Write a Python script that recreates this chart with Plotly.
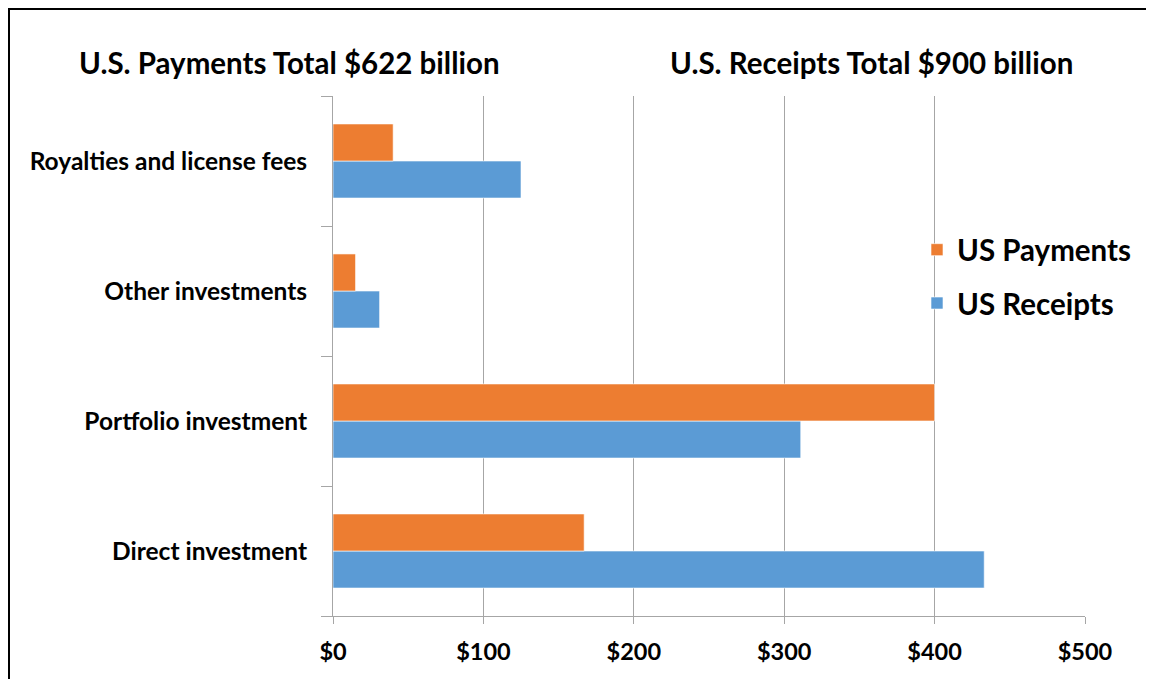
import plotly.graph_objects as go

categories = ["Direct investment", "Portfolio investment", "Other investments", "Royalties and license fees"]
us_payments = [167, 400, 15, 40]
us_receipts = [433, 311, 31, 125]
x_ticks = [0, 100, 200, 300, 400, 500]
x_tick_labels = ["$0", "$100", "$200", "$300", "$400", "$500"]

FONT = "Lato"
fig = go.Figure()
fig.add_trace(go.Bar(
    y=categories, x=us_receipts, orientation="h", name="US Receipts",
    marker=dict(color="#5B9BD5", line=dict(color="rgba(255,255,255,0.6)", width=1)),
    legendgroup="r", legendrank=2,
))
fig.add_trace(go.Bar(
    y=categories, x=us_payments, orientation="h", name="US Payments",
    marker=dict(color="#ED7D31", line=dict(color="rgba(255,255,255,0.6)", width=1)),
    legendgroup="p", legendrank=1,
))
# empty trace so the frame subplot (x2/y2) is rendered
fig.add_trace(go.Scatter(
    x=[None], y=[None], xaxis="x2", yaxis="y2", mode="markers",
    showlegend=False, hoverinfo="skip",
))

# page body adds an 8px offset; work in screen coordinates and convert to paper fractions
OFF = 8
W, H = 1154 - OFF, 679 - OFF

def fx(x):
    return (x - OFF) / W

def fy(y):
    return (H - (y - OFF)) / H

PLOT_L, PLOT_R, PLOT_T, PLOT_B = 333, 1085, 96, 616

fig.update_layout(
    width=W, height=H,
    margin=dict(l=0, r=0, t=0, b=0, autoexpand=False),
    paper_bgcolor="white", plot_bgcolor="rgba(0,0,0,0)",
    barmode="group", bargap=0.43, bargroupgap=0,
    font=dict(family=FONT, color="black"),
    showlegend=True,
    legend=dict(
        x=fx(917), y=fy(224), xanchor="left", yanchor="top",
        traceorder="grouped", tracegroupgap=12,
        font=dict(family=FONT, size=29.5, color="black", weight="bold"),
        bgcolor="rgba(0,0,0,0)",
    ),
    xaxis=dict(
        domain=[fx(PLOT_L), fx(PLOT_R)], anchor="y",
        range=[0, 500], tickvals=x_ticks, ticktext=x_tick_labels,
        showgrid=True, gridcolor="#A6A6A6", gridwidth=1,
        showline=True, linecolor="#A6A6A6", linewidth=1,
        ticks="outside", ticklen=7, tickcolor="#A6A6A6",
        ticklabelstandoff=8,
        tickfont=dict(family=FONT, size=23.5, color="black", weight="bold"),
        zeroline=False, fixedrange=True,
    ),
    yaxis=dict(
        domain=[fy(PLOT_B), fy(PLOT_T)], anchor="x",
        categoryorder="array", categoryarray=categories,
        showline=True, linecolor="#A6A6A6", linewidth=1,
        ticks="outside", ticklen=11, tickcolor="#A6A6A6", tickson="boundaries",
        ticklabelstandoff=20,
        tickfont=dict(family=FONT, size=24.5, color="black", weight="bold"),
        showgrid=False, fixedrange=True,
    ),
    # frame lines along the top and left of the chart area
    xaxis2=dict(
        domain=[1.5 / W, 1], anchor="y2", side="top", range=[0, 1],
        showline=True, linecolor="black", linewidth=2,
        showticklabels=False, ticks="", showgrid=False, zeroline=False, fixedrange=True,
    ),
    yaxis2=dict(
        domain=[0, 1 - 1.5 / H], anchor="x2", side="left", range=[0, 1],
        showline=True, linecolor="black", linewidth=2,
        showticklabels=False, ticks="", showgrid=False, zeroline=False, fixedrange=True,
    ),
    annotations=[
        dict(text="U.S. Payments Total $622 billion", x=fx(289), y=fy(63),
             xref="paper", yref="paper", xanchor="center", yanchor="middle",
             showarrow=False, font=dict(family=FONT, size=29.5, color="black", weight="bold")),
        dict(text="U.S. Receipts Total $900 billion", x=fx(871), y=fy(63),
             xref="paper", yref="paper", xanchor="center", yanchor="middle",
             showarrow=False, font=dict(family=FONT, size=29.5, color="black", weight="bold")),
    ],
)

fig.write_html("out.html")
